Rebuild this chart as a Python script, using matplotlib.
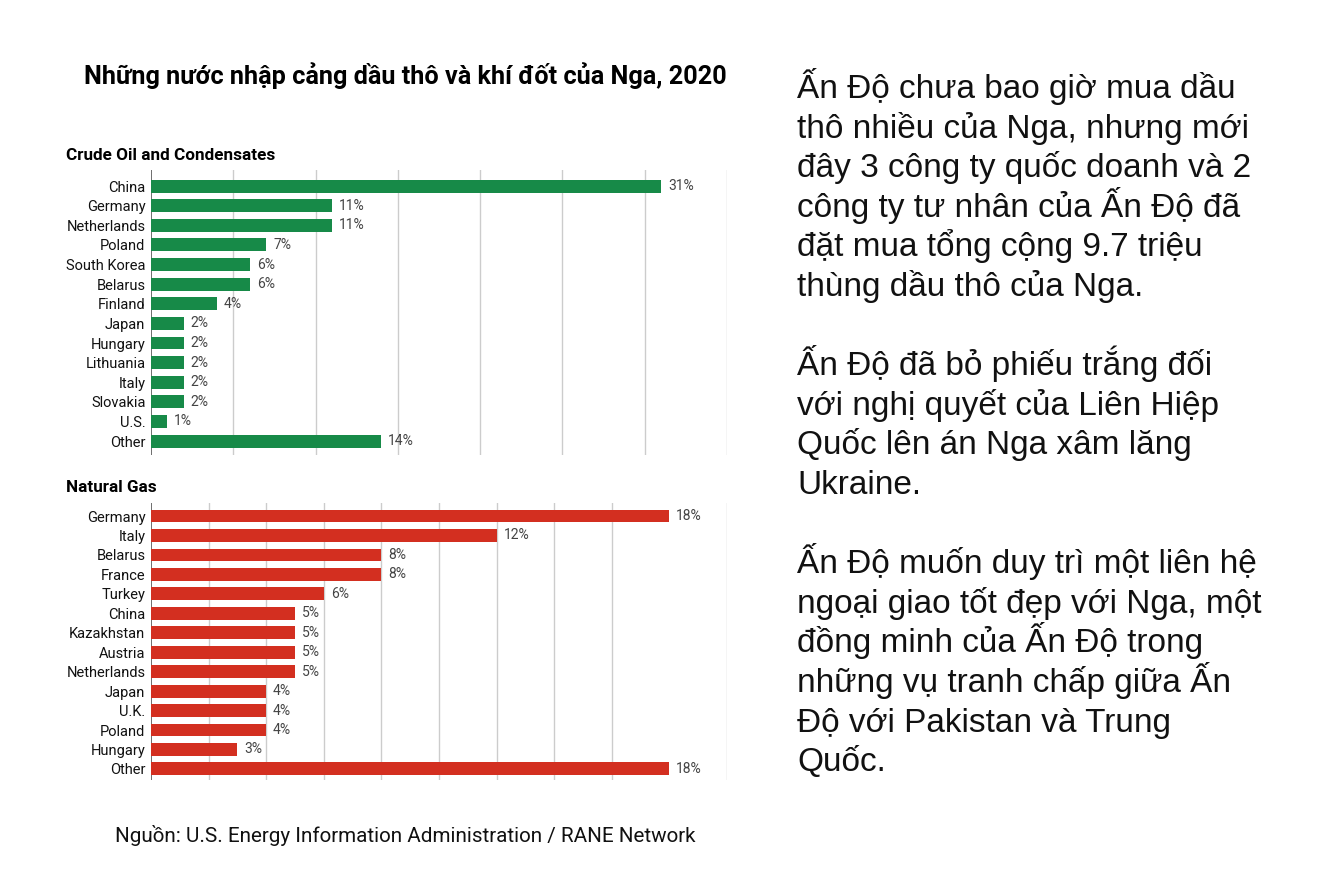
import matplotlib.pyplot as plt

# crude oil importers
oil_countries = ["China", "Germany", "Netherlands", "Poland", "South Korea", "Belarus",
                 "Finland", "Japan", "Hungary", "Lithuania", "Italy", "Slovakia", "U.S.", "Other"]
oil_share = [31, 11, 11, 7, 6, 6, 4, 2, 2, 2, 2, 2, 1, 14]

# natural gas importers
gas_countries = ["Germany", "Italy", "Belarus", "France", "Turkey", "China", "Kazakhstan",
                 "Austria", "Netherlands", "Japan", "U.K.", "Poland", "Hungary", "Other"]
gas_share = [18, 12, 8, 8, 6, 5, 5, 5, 5, 4, 4, 4, 3, 18]

oil_grid = [0, 5, 10, 15, 20, 25, 30, 35]
gas_grid = [0, 2, 4, 6, 8, 10, 12, 14, 16, 20]

title = "Những nước nhập cảng dầu thô và khí đốt của Nga, 2020"
source = "Nguồn: U.S. Energy Information Administration / RANE Network"
note_lines = [
    "Ấn Độ chưa bao giờ mua dầu", "thô nhiều của Nga, nhưng mới", "đây 3 công ty quốc doanh và 2",
    "công ty tư nhân của Ấn Độ đã", "đặt mua tổng cộng 9.7 triệu", "thùng dầu thô của Nga.", "",
    "Ấn Độ đã bỏ phiếu trắng đối", "với nghị quyết của Liên Hiệp", "Quốc lên án Nga xâm lăng",
    "Ukraine.", "",
    "Ấn Độ muốn duy trì một liên hệ", "ngoại giao tốt đẹp với Nga, một", "đồng minh của Ấn Độ trong",
    "những vụ tranh chấp giữa Ấn", "Độ với Pakistan và Trung", "Quốc.",
]

NARROW = ["Liberation Sans Narrow", "Roboto", "DejaVu Sans"]
W, H = 1321, 881

fig = plt.figure(figsize=(W / 100, H / 100), dpi=100)


def panel(top, bottom, countries, values, grid, xmax, color, ylim):
    ax = fig.add_axes([151 / W, 1 - bottom / H, 576 / W, (bottom - top) / H])
    y = range(len(countries))
    for g in grid:
        ax.axvline(g, color="#555555" if g == 0 else "#cccccc", lw=1.2 if g == 0 else 1, zorder=0)
    ax.barh(y, values, height=0.66, color=color, zorder=2)
    for yi, v in zip(y, values):
        ax.text(v + 0.012 * xmax, yi, f"{v}%", va="center", ha="left",
                fontsize=10, color="#444444", family=NARROW)
    ax.set_xlim(0, xmax)
    ax.set_ylim(*ylim)
    ax.set_yticks(list(y))
    ax.set_yticklabels(countries, fontsize=10.5, family=NARROW, color="#111111")
    ax.tick_params(axis="y", length=0, pad=4)
    ax.set_xticks([])
    for s in ax.spines.values():
        s.set_visible(False)
    return ax


panel(170, 455, oil_countries, oil_share, oil_grid, 35, "#178a48", (13.71, -0.82))
panel(503, 780, gas_countries, gas_share, gas_grid, 20, "#d32f20", (13.57, -0.67))

fig.text(405 / W, 1 - 76 / H, title, ha="center", va="center", fontsize=18.2,
         fontweight="bold", family=NARROW)
fig.text(66 / W, 1 - 156 / H, "Crude Oil and Condensates", ha="left", va="center",
         fontsize=12.3, fontweight="bold", family=NARROW)
fig.text(66 / W, 1 - 488 / H, "Natural Gas", ha="left", va="center",
         fontsize=12.3, fontweight="bold", family=NARROW)
fig.text(115 / W, 1 - 836 / H, source, ha="left", va="center", fontsize=14.9,
         family=NARROW, color="#111111")

for i, line in enumerate(note_lines):
    fig.text(797 / W, 1 - (98 + i * 39.6) / H, line, ha="left", va="baseline", fontsize=24,
             family=["Liberation Sans", "DejaVu Sans"], color="#111111")

fig.savefig("out.png", dpi=100, facecolor="white")
